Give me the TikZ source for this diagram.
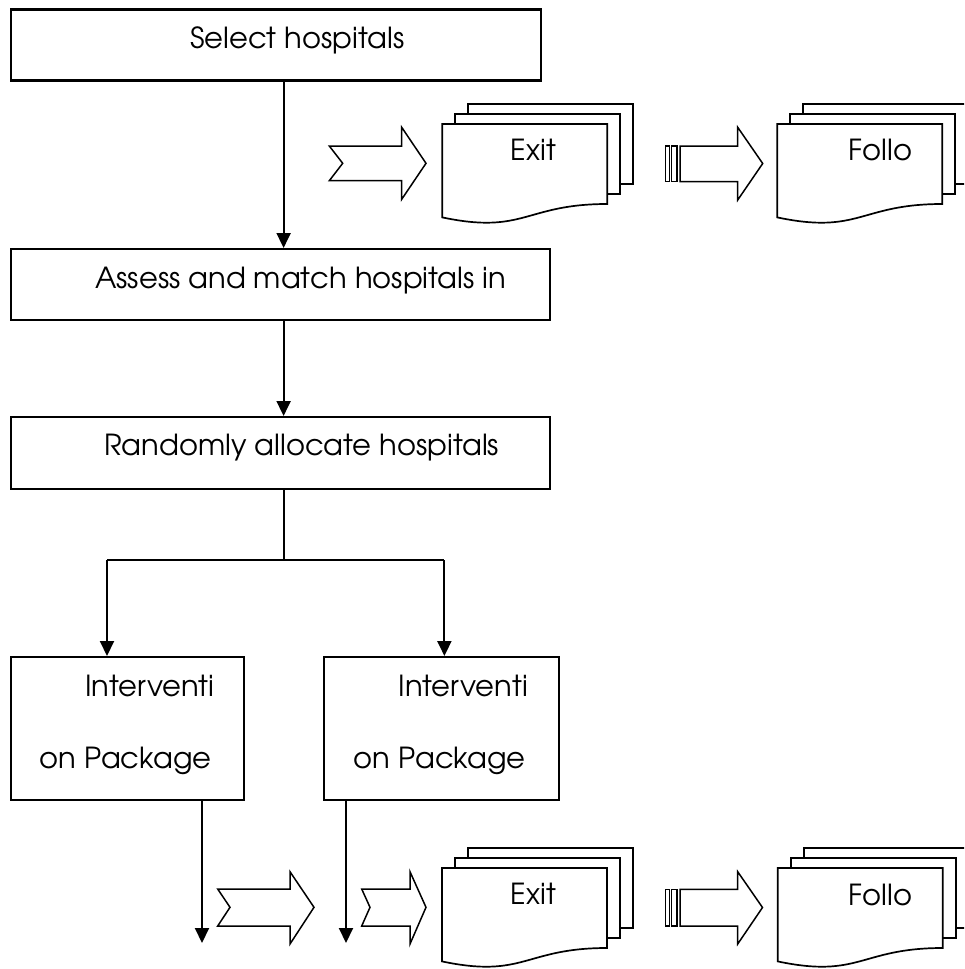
\documentclass[tikz,border=0pt]{standalone}
\usepackage{fontspec}
\setmainfont{TeX Gyre Adventor}
\usetikzlibrary{arrows.meta}
\tikzset{
  box/.style={draw, line width=2.2pt, rectangle, inner sep=0pt, anchor=north west},
  lbl/.style={inner sep=0pt, anchor=base west, font=\fontsize{29}{33}\selectfont},
  conn/.style={line width=2pt},
  arr/.style={-{Triangle[width=14pt,length=15pt]}},
  blk/.style={line width=1.5pt, line join=miter},
  stripe/.style={line width=1.1pt},
  doc/.style={line width=1.7pt, line join=miter}
}
\begin{document}
\begin{tikzpicture}[x=1pt,y=-1pt]
\useasboundingbox (0,0) rectangle (964,969);
\clip (0,0) rectangle (964,969);
% boxes
\node[box, minimum width=530.5pt, minimum height=71pt] (b1) at (9.5,8.3) {};
\node[box, minimum width=539pt, minimum height=70.5pt] (b2) at (9.5,248) {};
\node[box, minimum width=539pt, minimum height=72pt] (b3) at (9.5,416) {};
\node[box, minimum width=233.5pt, minimum height=143pt] (b4) at (9.5,656) {};
\node[box, minimum width=235pt, minimum height=143pt] (b5) at (323,656) {};
% labels
\node[lbl] (t1) at (190,48.3) {Select hospitals};
\node[lbl] (t2) at (95,288) {Assess and match hospitals in};
\node[lbl] (t3) at (104,455.5) {Randomly allocate hospitals};
\node[lbl] (t4a) at (85,696) {Interventi};
\node[lbl] (t4b) at (39.5,768.3) {on Package};
\node[lbl] (t5a) at (398.4,696) {Interventi};
\node[lbl] (t5b) at (353.6,768.3) {on Package};
% connectors
\coordinate (spine) at (283.6,0);
\draw[conn,arr] (b1.south -| spine) -- (b2.north -| spine);
\draw[conn,arr] (b2.south -| spine) -- (b3.north -| spine);
\coordinate (jn) at (283.6,560);
\coordinate (la) at (107,560);
\coordinate (ra) at (444.4,560);
\draw[conn] (b3.south -| jn) -- (jn);
\draw[conn] (la) -- (ra);
\draw[conn,arr] (la) -- (la |- b4.north);
\draw[conn,arr] (ra) -- (ra |- b5.north);
\coordinate (e4) at (202,943);
\coordinate (e5) at (346,943);
\draw[conn,arr] (b4.south -| e4) -- (e4);
\draw[conn,arr] (b5.south -| e5) -- (e5);
% block arrows top row
\draw[blk] (329.3,146) -- (401.7,146) -- (401.7,127.3) -- (426,163.3) -- (401.7,199.3) -- (401.7,180.7) -- (329.3,180.7) -- (342.7,163.3) -- cycle;
\draw[stripe] (665.5,146) rectangle (669.2,181.7);
\draw[stripe] (671.2,146) rectangle (677,181.7);
\draw[blk] (680,146) -- (737.7,146) -- (737.7,127.3) -- (762.7,163.5) -- (737.7,200) -- (737.7,181.7) -- (680,181.7) -- cycle;
% block arrows bottom row
\draw[blk] (217.7,889) -- (290,889) -- (290,871.7) -- (314,907.3) -- (290,944) -- (290,926) -- (217.7,926) -- (230,907.3) -- cycle;
\draw[blk] (361.7,889) -- (410,889) -- (410,871.7) -- (426,907.3) -- (410,944) -- (410,926) -- (361.7,926) -- (370,907.3) -- cycle;
\draw[stripe] (665.5,889.3) rectangle (669.2,926);
\draw[stripe] (671.2,889.3) rectangle (677,926);
\draw[blk] (680,889.3) -- (737.7,889.3) -- (737.7,871.7) -- (762.5,907.5) -- (737.7,944) -- (737.7,926) -- (680,926) -- cycle;
% multidocuments
\foreach \px/\py in {442.3/124, 777.3/124, 442/868, 777.7/868} {
  \begin{scope}[shift={(\px,\py)}]
    \draw[doc] (26,-10) -- (26,-20) -- (191,-20) -- (191,60) -- (178,60);
    \draw[doc] (13,0) -- (13,-10) -- (178,-10) -- (178,70) -- (165,70);
    \draw[doc] (0,0) -- (165,0) -- (165,80) .. controls (82.5,80) and (82.5,110.75) .. (0,93.4) -- cycle;
  \end{scope}
}
\node[lbl] (x1) at (510.7,160.7) {Exit};
\node[lbl] (f1) at (848.3,160.7) {Follo};
\node[lbl] (x2) at (510.7,904.5) {Exit};
\node[lbl] (f2) at (848.3,905) {Follo};
\end{tikzpicture}
\end{document}
